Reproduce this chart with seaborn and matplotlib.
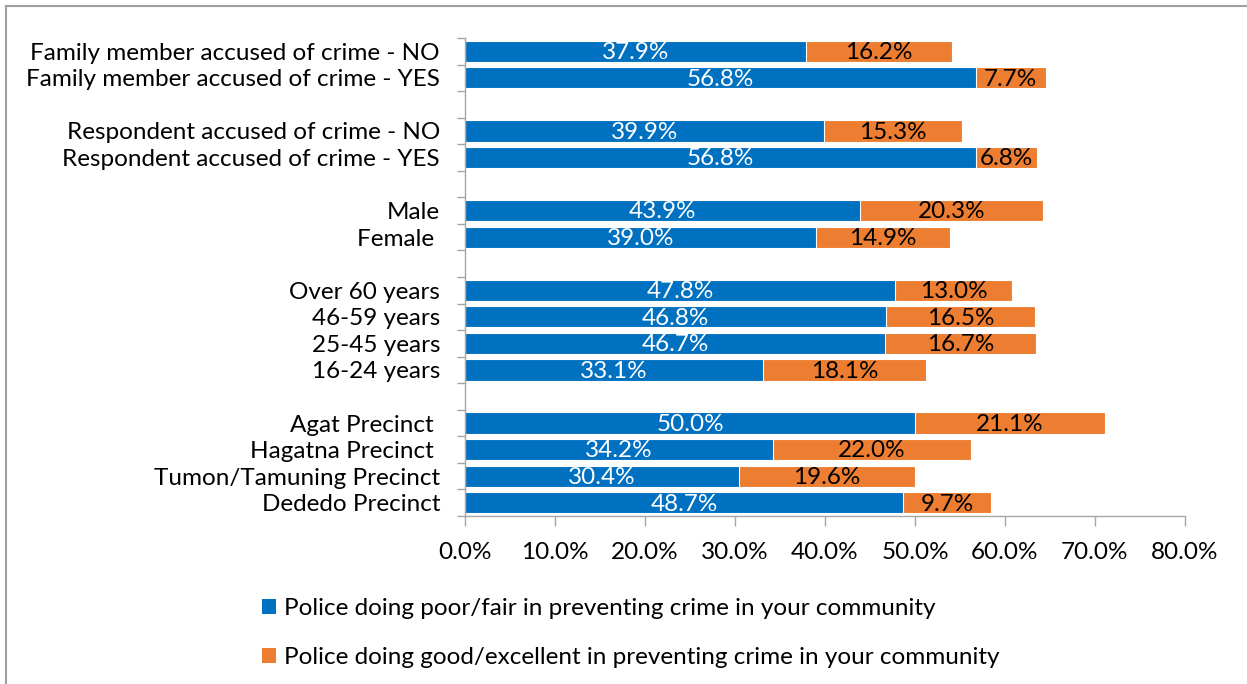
import pandas as pd
import seaborn as sns
import matplotlib.pyplot as plt
from matplotlib.lines import Line2D
from matplotlib.patches import Patch

# ===== data =====
categories = [
    "Family member accused of crime - NO",
    "Family member accused of crime - YES",
    "Respondent accused of crime - NO",
    "Respondent accused of crime - YES",
    "Male",
    "Female ",
    "Over 60 years",
    "46-59 years",
    "25-45 years",
    "16-24 years",
    "Agat Precinct ",
    "Hagatna Precinct ",
    "Tumon/Tamuning Precinct",
    "Dededo Precinct",
]
poor_fair = [37.9, 56.8, 39.9, 56.8, 43.9, 39.0, 47.8, 46.8, 46.7, 33.1, 50.0, 34.2, 30.4, 48.7]
good_excellent = [16.2, 7.7, 15.3, 6.8, 20.3, 14.9, 13.0, 16.5, 16.7, 18.1, 21.1, 22.0, 19.6, 9.7]
# empty slot after each group
groups = [2, 2, 2, 4, 4]
xticks = [0, 10, 20, 30, 40, 50, 60, 70, 80]

series_names = [
    "Police doing poor/fair in preventing crime in your community",
    "Police doing good/excellent in preventing crime in your community",
]
blue = "#0070C0"
orange = "#ED7D31"
axis_grey = "#A6A6A6"
FS = 17.5

df = pd.DataFrame({"cat": categories, "poor": poor_fair, "good": good_excellent})
df["total"] = df["poor"] + df["good"]

order = []
i = 0
for g_i, g in enumerate(groups):
    order += categories[i:i + g]
    i += g
    if g_i < len(groups) - 1:
        order.append(f"_gap{g_i}")

plt.rcParams["font.family"] = ["Lato", "DejaVu Sans"]

fig = plt.figure(figsize=(12.47, 6.84), dpi=100)
ax = fig.add_axes([465 / 1247, 1 - 516 / 684, 720 / 1247, 478 / 684])

sns.barplot(data=df, x="total", y="cat", order=order, color=orange, width=0.8,
            edgecolor="white", linewidth=0.8, saturation=1, ax=ax, errorbar=None)
sns.barplot(data=df, x="poor", y="cat", order=order, color=blue, width=0.8,
            edgecolor="white", linewidth=0.8, saturation=1, ax=ax, errorbar=None)

# segment labels
for _, r in df.iterrows():
    y = order.index(r["cat"])
    ax.text(r["poor"] / 2, y + 0.05, f"{r['poor']:.1f}%", ha="center", va="center",
            color="white", fontsize=FS)
    ax.text(r["poor"] + r["good"] / 2, y + 0.05, f"{r['good']:.1f}%", ha="center",
            va="center", color="black", fontsize=FS)

ax.set_xlim(0, 80)
ax.set_ylim(len(order) - 0.5, -0.5)
ax.set_xticks(xticks)
ax.set_xticklabels([f"{v:.1f}%" for v in xticks], fontsize=FS)
ax.set_yticks(range(len(order)))
ax.set_yticklabels(["" if c.startswith("_gap") else c for c in order], fontsize=FS)
ax.set_yticks([k - 0.5 for k in range(len(order) + 1)], minor=True)
ax.tick_params(axis="y", which="major", length=0, pad=18)
ax.tick_params(axis="y", which="minor", length=6, color=axis_grey, width=1)
ax.tick_params(axis="x", length=7, color=axis_grey, width=1, pad=12)
ax.set_xlabel("")
ax.set_ylabel("")
for side in ["top", "right"]:
    ax.spines[side].set_visible(False)
for side in ["left", "bottom"]:
    ax.spines[side].set_color(axis_grey)
    ax.spines[side].set_linewidth(1)

handles = [Patch(facecolor=blue), Patch(facecolor=orange)]
fig.legend(handles, series_names, loc="upper left", bbox_to_anchor=(240 / 1247, 1 - 576 / 684),
           frameon=False, fontsize=FS, handlelength=0.6, handleheight=0.6,
           handletextpad=0.3, labelspacing=1.15)

# chart-area border (top and left)
fig.add_artist(Line2D([6 / 1247, 1], [1 - 6 / 684, 1 - 6 / 684], color="#A0A0A0", lw=1.5))
fig.add_artist(Line2D([6 / 1247, 6 / 1247], [0, 1 - 6 / 684], color="#A0A0A0", lw=1.5))

fig.savefig("out.png", dpi=100)
